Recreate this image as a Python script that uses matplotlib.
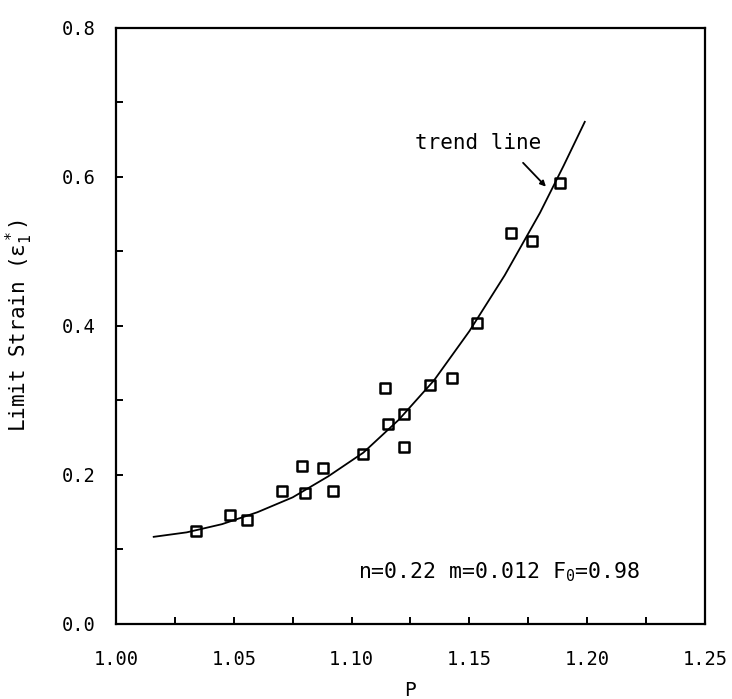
import numpy as np
import matplotlib
matplotlib.use("Agg")
import matplotlib.pyplot as plt
from matplotlib.markers import MarkerStyle

plt.rcParams['font.family'] = ['DejaVu Sans Mono', 'DejaVu Sans']
plt.rcParams['mathtext.fontset'] = 'custom'
plt.rcParams['mathtext.rm'] = 'DejaVu Sans Mono'
plt.rcParams['mathtext.it'] = 'DejaVu Sans Mono'
plt.rcParams['mathtext.bf'] = 'DejaVu Sans Mono'

# measured points (P, limit strain)
p_data = [1.034, 1.0484, 1.0556, 1.0705, 1.079, 1.0802, 1.0879, 1.0921, 1.1048, 1.1142,
          1.1155, 1.1222, 1.1222, 1.1333, 1.1426, 1.1532, 1.1677, 1.1766, 1.1885]
strain_data = [0.125, 0.146, 0.140, 0.178, 0.212, 0.176, 0.209, 0.178, 0.228, 0.317,
               0.268, 0.282, 0.238, 0.321, 0.330, 0.404, 0.525, 0.514, 0.592]

# trend line
p_trend = [1.016, 1.03, 1.045, 1.06, 1.075, 1.09, 1.105, 1.12, 1.135, 1.15,
           1.165, 1.18, 1.19, 1.199]
strain_trend = [0.117, 0.123, 0.134, 0.150, 0.170, 0.198, 0.230, 0.274, 0.327, 0.393,
                0.468, 0.552, 0.615, 0.674]

x_ticks = [1.00, 1.05, 1.10, 1.15, 1.20, 1.25]
y_ticks = [0.0, 0.2, 0.4, 0.6, 0.8]

fig = plt.figure(figsize=(7.32, 6.99), dpi=100)
ax = fig.add_axes([0.1585, 0.1073, 0.8045, 0.8527])

ax.plot(p_trend, strain_trend, color='black', lw=1.3)
ax.plot(p_data, strain_data, linestyle='none',
        marker=MarkerStyle('s', joinstyle='round'), markersize=7.5,
        markerfacecolor='none', markeredgecolor='black', markeredgewidth=1.8)

ax.set_xlim(1.00, 1.25)
ax.set_ylim(0.0, 0.8)
ax.set_xticks(x_ticks)
ax.set_xticklabels(['%.2f' % v for v in x_ticks])
ax.set_xticks(np.arange(1.025, 1.25, 0.05), minor=True)
ax.set_yticks(y_ticks)
ax.set_yticklabels(['%.1f' % v for v in y_ticks])
ax.set_yticks([0.1, 0.3, 0.5, 0.7], minor=True)

ax.tick_params(which='both', direction='in', length=5, width=1.4, top=False, right=False)
ax.tick_params(axis='x', which='major', labelsize=13.5, pad=19)
ax.tick_params(axis='y', which='major', labelsize=13.5, pad=15)
for s in ax.spines.values():
    s.set_linewidth(1.6)

ax.set_xlabel('P', fontsize=14)
ax.xaxis.set_label_coords(0.5, -0.095)
ax.set_ylabel(r'Limit Strain ($\varepsilon_1^*$)', fontsize=15)
ax.yaxis.set_label_coords(-0.137, 0.5)

ax.text(1.1027, 0.0617, r'n=0.22 m=0.012 F$_0$=0.98', fontsize=15.5,
        ha='left', va='baseline')
ax.text(1.1537, 0.6456, 'trend line', fontsize=15, ha='center', va='center')
ax.annotate('', xy=(1.1825, 0.587), xytext=(1.1728, 0.619),
            arrowprops=dict(arrowstyle='-|>', color='black', lw=1.3,
                            mutation_scale=8, shrinkA=0, shrinkB=0))

fig.savefig('out.png', dpi=100)
